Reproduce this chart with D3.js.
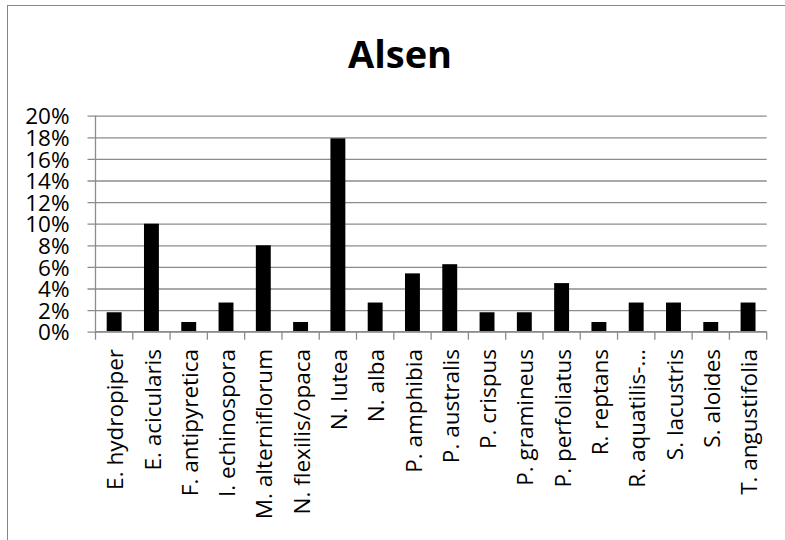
<!DOCTYPE html>
<html>
<head>
<meta charset="utf-8">
<script src="https://cdn.jsdelivr.net/npm/d3@7/dist/d3.min.js"></script>
<style>
  html, body { margin: 0; padding: 0; background: #fff; }
  svg { display: block; }
  text { font-family: "Open Sans", Lato, "Liberation Sans", sans-serif; fill: #000; }
</style>
</head>
<body>
<svg id="chart" width="785" height="540"></svg>
<script>
// Species recorded at Alsen and their share of observations (%)
const categories = [
  "E. hydropiper", "E. acicularis", "F. antipyretica", "I. echinospora",
  "M. alterniflorum", "N. flexilis/opaca", "N. lutea", "N. alba",
  "P. amphibia", "P. australis", "P. crispus", "P. gramineus",
  "P. perfoliatus", "R. reptans", "R. aquatilis-…", "S. lacustris",
  "S. aloides", "T. angustifolia"
];
const shares = [
  1.8, 10.0, 0.9, 2.7,
  8.0, 0.9, 17.9, 2.7,
  5.4, 6.25, 1.8, 1.8,
  4.5, 0.9, 2.7, 2.7,
  0.9, 2.7
];
const yTicks = [0, 2, 4, 6, 8, 10, 12, 14, 16, 18, 20];
const title = "Alsen";

const svg = d3.select("#chart");
const plot = { left: 95.5, right: 766.7, top: 115.7, bottom: 331.7 };
const axisColor = "#8c8c8c";

// outer chart frame
svg.append("rect")
  .attr("x", 7.5).attr("y", 5.5)
  .attr("width", 800).attr("height", 560)
  .attr("fill", "none").attr("stroke", "#868686").attr("stroke-width", 1);

const x = d3.scaleBand()
  .domain(categories)
  .range([plot.left, plot.right])
  .paddingInner(0.6).paddingOuter(0.3);

const xCat = d3.scaleBand().domain(categories).range([plot.left, plot.right]);

const y = d3.scaleLinear().domain([0, 20]).range([plot.bottom, plot.top]);

// horizontal gridlines + y axis
const yAxis = d3.axisLeft(y)
  .tickValues(yTicks)
  .tickFormat(d => d + "%")
  .tickSize(-(plot.right - plot.left))
  .tickPadding(0);

const gy = svg.append("g")
  .attr("transform", `translate(${plot.left},0)`)
  .call(yAxis);
gy.select(".domain").remove();
gy.selectAll(".tick line")
  .attr("x1", -8)
  .attr("stroke", axisColor).attr("stroke-width", 1.3);
gy.selectAll(".tick text")
  .attr("x", -26)
  .attr("dy", "0.36em")
  .style("font-size", "22.5px")
  .style("font-family", "'Open Sans', sans-serif");

// vertical axis line
svg.append("line")
  .attr("x1", plot.left).attr("x2", plot.left)
  .attr("y1", plot.top).attr("y2", plot.bottom)
  .attr("stroke", axisColor).attr("stroke-width", 1.3);

// bars
svg.append("g").selectAll("rect")
  .data(categories)
  .join("rect")
  .attr("x", d => x(d))
  .attr("width", x.bandwidth())
  .attr("y", (d, i) => y(shares[i]))
  .attr("height", (d, i) => y(0) - y(shares[i]))
  .attr("fill", "#000");

// category axis
const xAxis = d3.axisBottom(xCat).tickSize(0).tickFormat("");
const gx = svg.append("g")
  .attr("transform", `translate(0,${plot.bottom})`)
  .call(xAxis);
gx.select(".domain").remove();

svg.append("line")
  .attr("x1", plot.left).attr("x2", plot.right)
  .attr("y1", plot.bottom).attr("y2", plot.bottom)
  .attr("stroke", axisColor).attr("stroke-width", 1.3);

// category dividers below the axis
const edges = categories.map(c => xCat(c)).concat([plot.right]);
svg.append("g").selectAll("line")
  .data(edges)
  .join("line")
  .attr("x1", d => d).attr("x2", d => d)
  .attr("y1", plot.bottom).attr("y2", plot.bottom + 8)
  .attr("stroke", axisColor).attr("stroke-width", 1.3);

// rotated category labels
svg.append("g").selectAll("text")
  .data(categories)
  .join("text")
  .attr("transform", d => `translate(${xCat(d) + xCat.bandwidth() / 2 + 1},349) rotate(-90)`)
  .attr("text-anchor", "end")
  .attr("dy", "0.36em")
  .style("font-size", "22.5px")
  .text(d => d);

// title
svg.append("text")
  .attr("x", 400).attr("y", 68)
  .attr("text-anchor", "middle")
  .style("font-size", "38px")
  .style("font-weight", "bold")
  .text(title);
</script>
</body>
</html>
